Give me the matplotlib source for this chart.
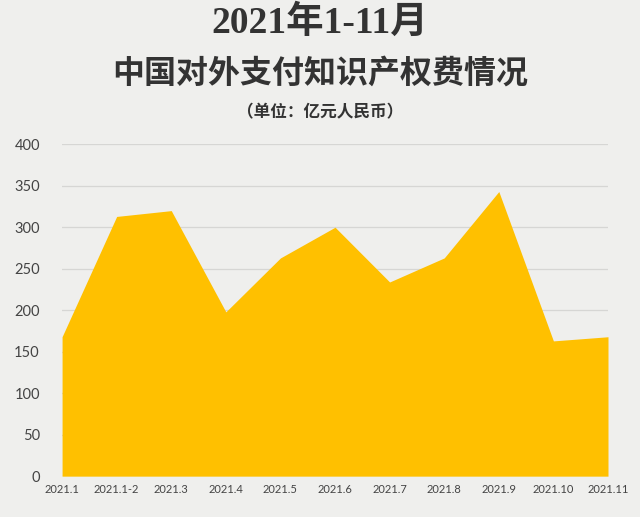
import matplotlib.pyplot as plt

months = ["2021.1", "2021.1-2", "2021.3", "2021.4", "2021.5", "2021.6",
          "2021.7", "2021.8", "2021.9", "2021.10", "2021.11"]
payments = [168, 313, 320, 198, 263, 300, 234, 263, 343, 163, 168]
y_ticks = [0, 50, 100, 150, 200, 250, 300, 350, 400]

bg = "#efefed"
plt.rcParams["font.family"] = ["Lato", "Noto Sans CJK SC", "DejaVu Sans"]

fig = plt.figure(figsize=(6.4, 5.17), dpi=100, facecolor=bg)
ax = fig.add_axes([0.097, 0.079, 0.853, 0.642], facecolor=bg)

x = list(range(len(months)))
ax.fill_between(x, payments, 0, color="#ffc000", linewidth=0, zorder=2)

ax.set_xlim(0, len(months) - 1)
ax.set_ylim(0, 400)
ax.set_yticks(y_ticks)
ax.set_xticks(x)
ax.set_xticklabels(months, fontsize=8, color="#444444")
ax.tick_params(axis="y", labelsize=10.5, labelcolor="#444444", length=0, pad=16)
ax.tick_params(axis="x", length=0, pad=6)
ax.grid(axis="y", color="#d6d6d4", linewidth=0.9, zorder=0)
for s in ax.spines.values():
    s.set_visible(False)

title_font = ["Liberation Serif", "Noto Sans CJK SC"]
fig.text(0.5, 0.955, "2021年1-11月", ha="center", va="center", fontsize=27,
         fontweight="bold", color="#333333", family=title_font)
fig.text(0.5, 0.857, "中国对外支付知识产权费情况", ha="center", va="center", fontsize=23,
         fontweight="bold", color="#333333", family=title_font)
fig.text(0.5, 0.781, "（单位：亿元人民币）", ha="center", va="center", fontsize=12,
         fontweight="bold", color="#333333", family=title_font)

fig.savefig("out.png", facecolor=bg)
